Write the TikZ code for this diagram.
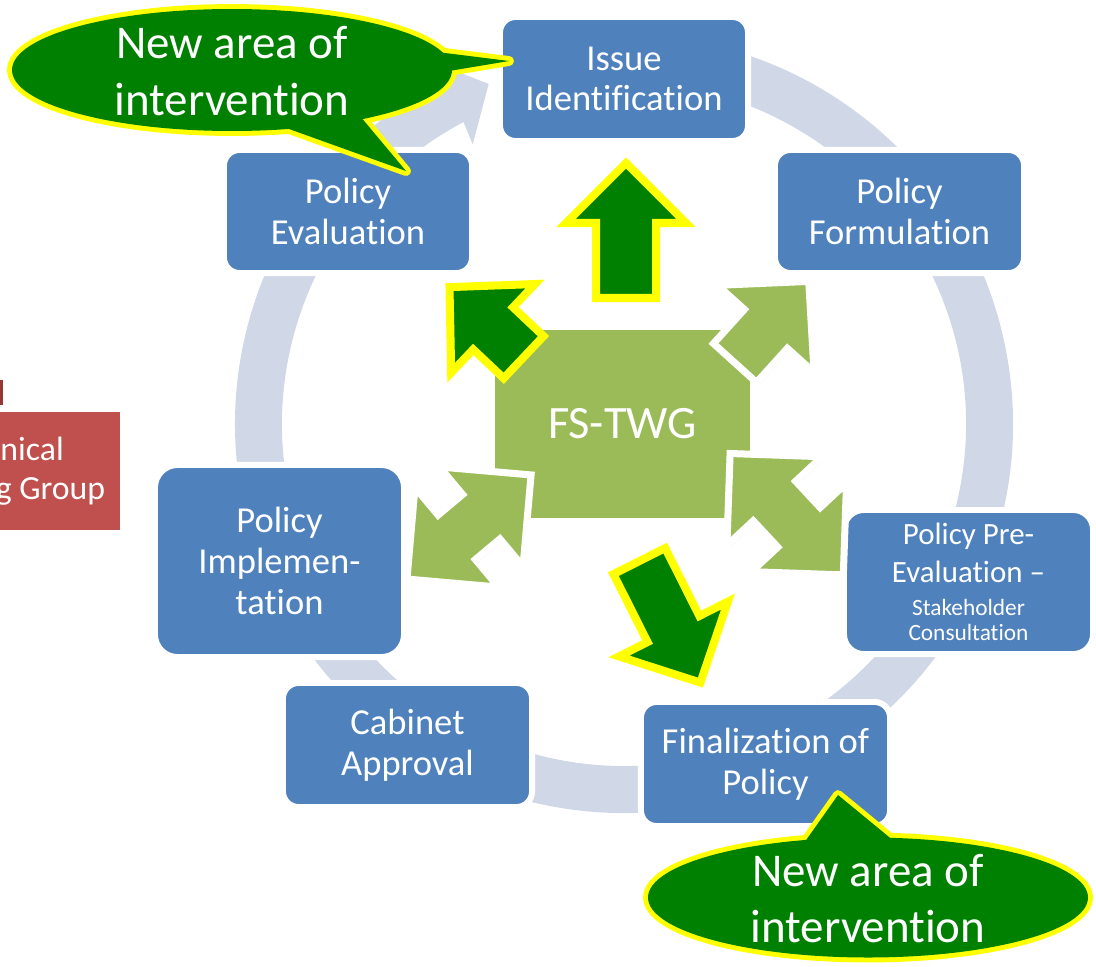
\documentclass[tikz,border=0pt]{standalone}
\usepackage{fontspec}
\setmainfont{Carlito}[Ligatures=NoCommon]
\usetikzlibrary{shadows}
\definecolor{boxblue}{HTML}{4F81BD}
\definecolor{ringblue}{HTML}{D0D8E8}
\definecolor{leaf}{HTML}{9BBB59}
\definecolor{dkgreen}{HTML}{008000}
\definecolor{redbox}{HTML}{C0504D}
\definecolor{darkred}{HTML}{953735}
\definecolor{hiyellow}{HTML}{FFFF00}
% single block arrow: style, tail centre, rotation, length, head length, head half-width, shaft half-width
\newcommand{\onearrow}[7]{\path[#1,shift={(#2)},rotate=#3] (0,-#7) -- ({#4-#5},-#7) -- ({#4-#5},-#6) -- (#4,0) -- ({#4-#5},#6) -- ({#4-#5},#7) -- (0,#7) -- cycle;}
% double block arrow: style, centre, rotation, total length, head length, head half-width, shaft half-width
\newcommand{\twoarrow}[7]{\path[#1,shift={(#2)},rotate=#3] ({-#4/2},0) -- ({-#4/2+#5},-#6) -- ({-#4/2+#5},-#7) -- ({#4/2-#5},-#7) -- ({#4/2-#5},-#6) -- ({#4/2},0) -- ({#4/2-#5},#6) -- ({#4/2-#5},#7) -- ({-#4/2+#5},#7) -- ({-#4/2+#5},#6) -- cycle;}
\tikzset{
  stage/.style={fill=boxblue, draw=white, line width=4.25pt, text=white, align=center,
    inner sep=0pt, font=\fontsize{26}{29}\selectfont},
  redstage/.style={fill=redbox, text=white, align=center, inner sep=0pt,
    font=\fontsize{24}{27.5}\selectfont},
  hub/.style={fill=leaf, draw=white, line width=5.67pt, text=white, inner sep=0pt,
    font=\fontsize{33}{40}\selectfont,
    drop shadow={opacity=0.22, shadow xshift=1.5pt, shadow yshift=-2pt}},
  ringshape/.style={fill=ringblue},
  yarrow/.style={fill=dkgreen, draw=hiyellow, line width=5.7pt, line join=miter,
    drop shadow={opacity=0.22, shadow xshift=1.5pt, shadow yshift=-2pt}},
  warrow/.style={fill=leaf, draw=white, line width=5pt, line join=miter,
    drop shadow={opacity=0.22, shadow xshift=1.5pt, shadow yshift=-2pt}},
  calloutedge/.style={draw=hiyellow, line width=7pt, line join=round},
  calloutfill/.style={fill=dkgreen},
  callouttext/.style={text=white, align=center, inner sep=0pt,
    font=\fontsize{33.4}{40.4}\selectfont}
}
\begin{document}
\begin{tikzpicture}[x=0.025cm,y=-0.025cm]
\useasboundingbox (0,0) rectangle (1096,966);
\begin{scope}
\clip (0,0) rectangle (1096,966);

% circular arrow ring
\begin{scope}[shift={(624,424)}]
  \fill[ringshape] (260:389) arc[start angle=260, end angle=602, radius=389]
    -- (601.6:414) -- (608.3:366) -- (601.6:318) -- (602:342)
    arc[start angle=602, end angle=260, radius=342] -- cycle;
\end{scope}

% left red box (cut by the picture edge)
\fill[darkred] (0,380) rectangle (3,405);
\node[redstage, minimum width=5.95cm, minimum height=2.95cm] (twg) at (1,471) {Technical\\Working Group};

% stages
\node[stage, minimum width=6.2cm, minimum height=3.1cm, rounded corners=11pt] (iss) at (624,79) {Issue\\Identification};
\node[stage, minimum width=6.2cm, minimum height=3.075cm, rounded corners=11pt] (eval) at (348,211.5) {Policy\\Evaluation};
\node[stage, minimum width=6.225cm, minimum height=3.075cm, rounded corners=11pt] (form) at (899.5,211.5) {Policy\\Formulation};
\node[stage, minimum width=6.225cm, minimum height=4.8cm, rounded corners=16pt] (impl) at (279.5,561) {Policy\\Implemen-\\tation};
\node[stage, minimum width=6.225cm, minimum height=3.1cm, rounded corners=11pt] (cab) at (407.5,745) {Cabinet\\Approval};
\node[stage, minimum width=6.225cm, minimum height=3.1cm, rounded corners=11pt] (fin) at (765.5,764) {Finalization of\\Policy};
\node[stage, minimum width=6.225cm, minimum height=3.6cm, rounded corners=14pt,
  font=\fontsize{22}{27}\selectfont] (pre) at (968.5,582)
  {\fontsize{22}{27}\selectfont Policy Pre-\\
   \fontsize{22}{27}\selectfont Evaluation –\\[-3.6pt]
   \fontsize{16.6}{20}\selectfont Stakeholder\\[-9.3pt]
   \fontsize{16.6}{20}\selectfont Consultation};

% central hub
\node[hub, minimum width=6.575cm, minimum height=4.9cm] (fs) at (622.5,424) {FS-TWG};

% light green arrows
\onearrow{warrow}{735,363}{47.9}{110}{64}{65}{29}
\twoarrow{warrow}{469,527}{40}{162}{65}{65}{29}
\twoarrow{warrow}{786.7,514.2}{-47}{166}{65}{65}{29}

% dark green arrows
\onearrow{yarrow}{626,298}{90}{135}{60}{60}{30}
\onearrow{yarrow}{523.6,357.2}{136.6}{102}{60}{61}{29}
\onearrow{yarrow}{639.3,561.1}{-63.3}{136}{60}{61}{29}

% callout top left
\path[calloutedge] (232,70) ellipse[x radius=220, y radius=61];
\path[calloutedge] (509,61) -- (425,50.5) -- (425,75) -- cycle;
\path[calloutedge] (406,171) -- (250,115) -- (355,110) -- cycle;
\path[calloutfill] (232,70) ellipse[x radius=220, y radius=61];
\path[calloutfill] (509,61) -- (425,50.5) -- (425,75) -- cycle;
\path[calloutfill] (406,171) -- (250,115) -- (355,110) -- cycle;
\node[callouttext] (c1) at (232,71) {New area of\\intervention};

% callout bottom right
\path[calloutedge] (868,897.5) ellipse[x radius=220, y radius=60];
\path[calloutedge] (838,795) -- (792,860) -- (917,860) -- cycle;
\path[calloutfill] (868,897.5) ellipse[x radius=220, y radius=60];
\path[calloutfill] (838,795) -- (792,860) -- (917,860) -- cycle;
\node[callouttext] (c2) at (868,898.5) {New area of\\intervention};
\end{scope}
\end{tikzpicture}
\end{document}
